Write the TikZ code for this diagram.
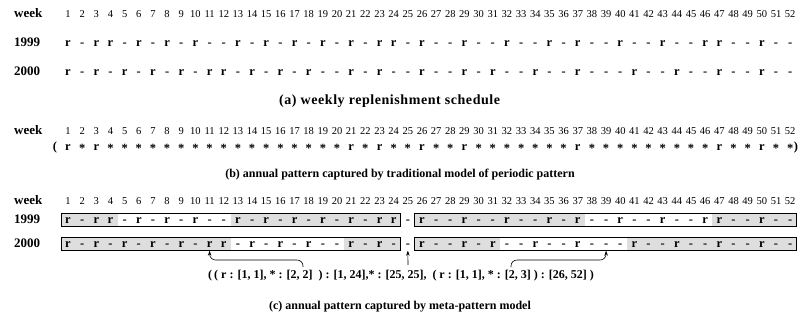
\documentclass[tikz,border=0pt]{standalone}
\usepackage{fontspec}
\setmainfont{Liberation Serif}
\newfontfamily\widecap[LetterSpace=4]{Liberation Serif}
\usetikzlibrary{arrows.meta}
% glyphs used in the schedule rows
\newcommand\glyphr{r}
\newcommand\glyphd{-}
\newcommand\glyphs{\raisebox{-0.35ex}{*}}
\newcommand\wkx[1]{68+(#1-1)*14.16}
\begin{document}
\begin{tikzpicture}[x=1pt,y=-1pt,
  lab/.style={font=\bfseries\fontsize{13}{13}\selectfont, anchor=base west, inner sep=0pt},
  num/.style={font=\fontsize{10.5}{10.5}\selectfont, anchor=base, inner sep=0pt},
  sym/.style={font=\bfseries\fontsize{12.5}{12.5}\selectfont, anchor=base, inner sep=0pt},
  captext/.style={font=\bfseries\fontsize{12}{12}\selectfont, anchor=base, inner sep=0pt},
  formula/.style={font=\bfseries\fontsize{12}{12}\selectfont, anchor=base, inner sep=0pt},
  boxline/.style={draw=black, line width=0.9pt},
  hit/.style={fill=black!13},
  link/.style={draw=black, line width=0.6pt, -{Stealth[length=5pt,width=3.5pt]}, rounded corners=6pt}
]
\useasboundingbox (0,0) rectangle (799,333);

% ---------- (a) weekly replenishment schedule ----------
\node[lab] (wka) at (14,17) {week};
\node[lab] (ya1) at (14,46) {1999};
\node[lab] (ya2) at (14,75) {2000};
\foreach \k in {1,...,52} \node[num] (na\k) at ({\wkx{\k}},17) {\k};
\foreach \c [count=\k] in {r,d,r,r,d,r,d,r,d,r,d,d,r,d,r,d,r,d,r,d,r,d,r,r,
                           d,r,d,d,r,d,d,r,d,d,r,d,r,d,d,r,d,d,r,d,d,r,r,d,d,r,d,d}
  \node[sym] (a1999-\k) at ({\wkx{\k}},46) {\csname glyph\c\endcsname};
\foreach \c [count=\k] in {r,d,r,d,r,d,r,d,r,d,r,r,d,r,d,r,d,r,d,d,r,d,r,d,
                           d,r,d,d,r,d,r,d,d,r,d,d,r,d,d,d,r,d,d,r,d,d,r,d,d,r,d,d}
  \node[sym] (a2000-\k) at ({\wkx{\k}},75) {\csname glyph\c\endcsname};
\node[captext, anchor=base west, font=\widecap\bfseries\fontsize{14}{14}\selectfont] (capa) at (279,104)
  {(a) weekly replenishment schedule};

% ---------- (b) traditional periodic pattern ----------
\node[lab] (wkb) at (14,134) {week};
\foreach \k in {1,...,52} \node[num] (nb\k) at ({\wkx{\k}},134) {\k};
\node[sym] (lpar) at (55,150) {(};
\foreach \c [count=\k] in {r,s,r,s,s,s,s,s,s,s,s,s,s,s,s,s,s,s,s,s,r,s,r,s,
                           s,r,s,s,r,s,s,s,s,s,s,s,r,s,s,s,s,s,s,s,s,s,r,s,s,r,s,s}
  \node[sym] (b-\k) at ({\wkx{\k}},150) {\csname glyph\c\endcsname};
\node[sym] (rpar) at (796,150) {)};
\node[captext] (capb) at (400,177) {(b) annual pattern captured by traditional model of periodic pattern};

% ---------- (c) meta-pattern ----------
\node[lab] (wkc) at (14,204) {week};
\node[lab] (yc1) at (14,223) {1999};
\node[lab] (yc2) at (14,247) {2000};
\foreach \k in {1,...,52} \node[num] (nc\k) at ({\wkx{\k}},204) {\k};

% cycles in which the sub-pattern holds
\foreach \a/\e/\b in {1/4/223, 13/24/223, 26/37/223, 47/52/223,
                      1/12/247, 21/24/247, 26/31/247, 41/52/247}
  \fill[hit] ({\wkx{\a}-7.08},\b-10) rectangle ({\wkx{\e}+7.08},\b+3);

\foreach \c [count=\k] in {r,d,r,r,d,r,d,r,d,r,d,d,r,d,r,d,r,d,r,d,r,d,r,r,
                           d,r,d,d,r,d,d,r,d,d,r,d,r,d,d,r,d,d,r,d,d,r,r,d,d,r,d,d}
  \node[sym] (c1999-\k) at ({\wkx{\k}},223) {\csname glyph\c\endcsname};
\foreach \c [count=\k] in {r,d,r,d,r,d,r,d,r,d,r,r,d,r,d,r,d,r,d,d,r,d,r,d,
                           d,r,d,d,r,d,r,d,d,r,d,d,r,d,d,d,r,d,d,r,d,d,r,d,d,r,d,d}
  \node[sym] (c2000-\k) at ({\wkx{\k}},247) {\csname glyph\c\endcsname};

\foreach \b in {223,247} {
  \draw[boxline] ({\wkx{1}-7},\b-10) rectangle ({\wkx{24}+7.08},\b+3);
  \draw[boxline] ({\wkx{26}-7.08},\b-10) rectangle ({\wkx{52}+6},\b+3);
}

\node[formula] (form) at (401,278)
  {(\,( r : [1, 1], * : [2, 2]~ ) : [1, 24],* : [25, 25],~ ( r : [1, 1], * : [2, 3] ) : [26, 52] )};

\coordinate (s1) at (303,267);
\coordinate (s2) at (408,265);
\coordinate (s3) at (511,267);
\draw[link] (s1) -- (303,260) -- (c2000-11.south |- 0,260) -- ([yshift=-3.5pt]c2000-11.south);
\draw[link] (s2) -- ([yshift=-3.5pt]c2000-25.south);
\draw[link] (s3) -- (511,260) -- (c2000-39.south |- 0,260) -- ([yshift=-3.5pt]c2000-39.south);

\node[captext] (capc) at (400,309) {(c) annual pattern captured by meta-pattern model};
\end{tikzpicture}
\end{document}
